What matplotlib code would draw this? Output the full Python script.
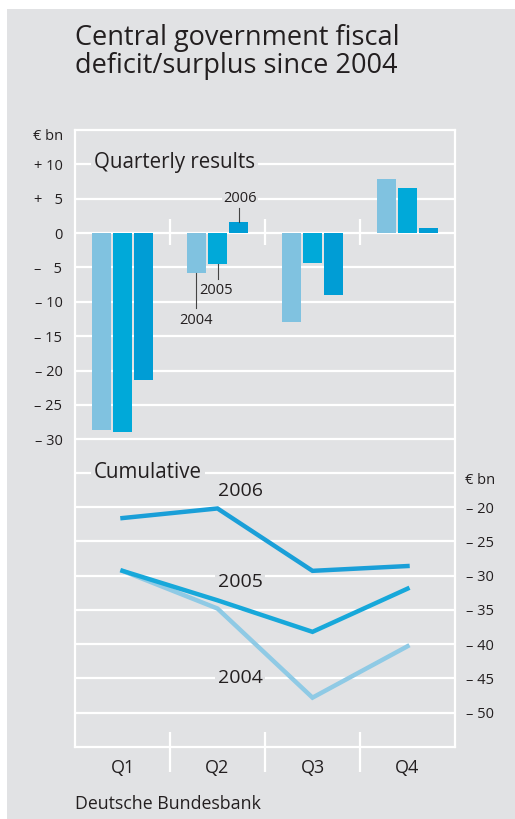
import matplotlib
matplotlib.use("Agg")
import matplotlib.pyplot as plt
from matplotlib.patches import Rectangle
import numpy as np

plt.rcParams["font.family"] = ["Open Sans", "DejaVu Sans"]

# Data (EUR bn)
quarters = ["Q1", "Q2", "Q3", "Q4"]
years = ["2004", "2005", "2006"]
quarterly_2004 = [-28.7, -5.8, -12.9, 7.8]
quarterly_2005 = [-28.9, -4.5, -4.3, 6.5]
quarterly_2006 = [-21.4, 1.6, -9.0, 0.8]
cumulative_2004 = [-29.3, -34.8, -47.8, -40.3]
cumulative_2005 = [-29.3, -33.6, -38.2, -31.9]
cumulative_2006 = [-21.6, -20.2, -29.3, -28.6]

bar_colors = ["#80c2e0", "#00a9d9", "#009dd5"]
line_colors = ["#8fcae5", "#17a8da", "#1a9fd8"]
BG = "#e1e2e4"
TXT = "#231f20"

W, H = 515, 819
fig = plt.figure(figsize=(W / 100, H / 100), dpi=100, facecolor="white")


def fx(px):
    return px / W


def fy(py):
    return 1 - py / H


fig.patches.append(Rectangle((fx(7), 0), 1 - fx(7), fy(9), transform=fig.transFigure,
                             facecolor=BG, edgecolor="none", zorder=-5))

ax1 = fig.add_axes([fx(75), fy(453), fx(455) - fx(75), fy(130) - fy(453)])
ax2 = fig.add_axes([fx(75), fy(747), fx(455) - fx(75), fy(455) - fy(747)])

for ax in (ax1, ax2):
    ax.set_facecolor(BG)
    ax.set_xlim(-0.5, 3.5)
    for s in ax.spines.values():
        s.set_color("white")
        s.set_linewidth(1.6)
    ax.tick_params(length=0, colors=TXT, labelsize=10.5)

# ---- quarterly bars ----
ax1.set_ylim(-32.0, 15)
ax1.spines["bottom"].set_visible(False)
yt = list(range(-30, 11, 5))
ax1.set_yticks(yt)
labs = []
for v in yt:
    if v == 0:
        labs.append("0")
    else:
        sign = "+" if v > 0 else "\u2013"
        num = str(abs(v)) if abs(v) >= 10 else "\u2007" + str(abs(v))
        labs.append(sign + " " + num)
ax1.set_yticklabels(labs)
ax1.tick_params(axis="y", pad=9)
ax1.set_xticks([])
for v in yt:
    ax1.axhline(v, color="white", lw=1.6, zorder=1)

x = np.arange(len(quarters))
off = 0.226
bw = 0.2
for i, (vals, c) in enumerate(zip([quarterly_2004, quarterly_2005, quarterly_2006], bar_colors)):
    ax1.bar(x + (i - 1) * off, vals, width=bw, color=c, zorder=3)

ax1.vlines([0.5, 1.5, 2.5], -1.8, 2.0, color="white", lw=1.6, zorder=2)

ax1.text(-0.3, 10.2, "Quarterly results", fontsize=14.8, color=TXT, va="center", ha="left",
         zorder=4, bbox=dict(facecolor=BG, edgecolor="none", pad=2))

# leader labels Q2
ax1.plot([1 + off, 1 + off], [quarterly_2006[1], 3.6], color="#444444", lw=0.8, zorder=4)
ax1.text(1.237, 5.1, "2006", fontsize=10.5, color=TXT, ha="center", va="center", zorder=4,
         bbox=dict(facecolor=BG, edgecolor="none", pad=1))
ax1.plot([1.0, 1.0], [quarterly_2005[1], -6.7], color="#444444", lw=0.8, zorder=4)
ax1.text(0.98, -8.3, "2005", fontsize=10.5, color=TXT, ha="center", va="center", zorder=4)
ax1.plot([1 - off, 1 - off], [quarterly_2004[1], -10.9], color="#444444", lw=0.8, zorder=4)
ax1.text(0.77, -12.7, "2004", fontsize=10.5, color=TXT, ha="center", va="center", zorder=4)

# ---- cumulative lines ----
ax2.set_ylim(-55, -12.4)
ax2.spines["top"].set_visible(False)
ax2.yaxis.tick_right()
rt = list(range(-50, -19, 5))
ax2.set_yticks(rt)
ax2.set_yticklabels(["\u2013 " + str(abs(v)) for v in rt])
ax2.tick_params(axis="y", pad=8)
for v in range(-50, -14, 5):
    ax2.axhline(v, color="white", lw=1.6, zorder=1)
ax2.set_xticks(x)
ax2.set_xticklabels(quarters, fontsize=13)
ax2.tick_params(axis="x", pad=9)
ax2.vlines([0.5, 1.5, 2.5], -58.6, -52.8, color="white", lw=1.6, zorder=2, clip_on=False)

for vals, c in zip([cumulative_2004, cumulative_2005, cumulative_2006], line_colors):
    ax2.plot(x, vals, color=c, lw=3.2, zorder=3, solid_joinstyle="miter")

ax2.text(-0.3, -14.9, "Cumulative", fontsize=14.8, color=TXT, va="center", ha="left",
         zorder=4, bbox=dict(facecolor=BG, edgecolor="none", pad=2))
ax2.text(1.237, -17.7, "2006", fontsize=14, color=TXT, ha="center", va="center", zorder=4)
ax2.text(1.237, -30.9, "2005", fontsize=14, color=TXT, ha="center", va="center", zorder=2,
         bbox=dict(facecolor=BG, edgecolor="none", pad=1.5))
ax2.text(1.237, -44.9, "2004", fontsize=14, color=TXT, ha="center", va="center", zorder=2,
         bbox=dict(facecolor=BG, edgecolor="none", pad=1.5))

# ---- titles and units ----
fig.text(fx(75), fy(24), "Central government fiscal\ndeficit/surplus since 2004",
         fontsize=19.5, color=TXT, ha="left", va="top", linespacing=1.02)
fig.text(fx(63), fy(137), "\u20ac bn", fontsize=10.5, color=TXT, ha="right", va="center")
fig.text(fx(465), fy(480), "\u20ac bn", fontsize=10.5, color=TXT, ha="left", va="center")
fig.text(fx(75), fy(804), "Deutsche Bundesbank", fontsize=12.8, color=TXT, ha="left", va="center")

fig.savefig("out.png", dpi=100, facecolor="white")
